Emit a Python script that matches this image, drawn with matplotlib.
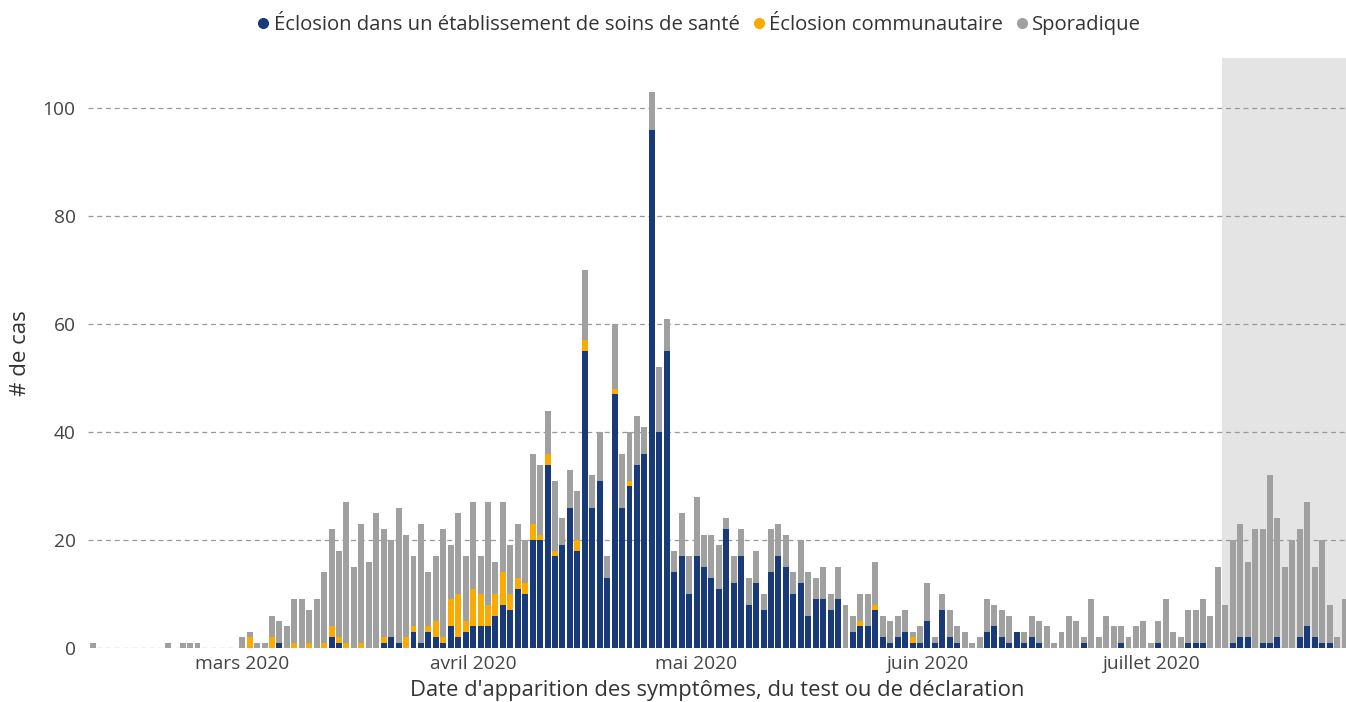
import pandas as pd
import matplotlib
matplotlib.use("Agg")
import matplotlib.pyplot as plt
import matplotlib.dates as mdates
from matplotlib.lines import Line2D

# Daily counts from 2020-02-10 onward
start_date = "2020-02-10"

eclosion_soins = [
    0, 0, 0, 0, 0, 0, 0, 0, 0, 0, 0, 0, 0, 0, 0, 0, 0, 0, 0, 0,
    0, 0, 0, 0, 0, 1, 0, 0, 0, 0, 0, 0, 2, 1, 0, 0, 0, 0, 0, 1,
    2, 1, 0, 3, 1, 3, 2, 1, 4, 2, 3, 4, 4, 4, 6, 8, 7, 11, 10, 20,
    20, 34, 17, 19, 26, 18, 55, 26, 31, 13, 47, 26, 30, 34, 36, 96, 40, 55, 14, 17,
    10, 17, 15, 13, 11, 22, 12, 17, 8, 12, 7, 14, 17, 15, 10, 12, 6, 9, 9, 7,
    9, 0, 3, 4, 4, 7, 2, 1, 2, 3, 1, 1, 5, 1, 7, 2, 1, 0, 0, 0,
    3, 4, 2, 1, 3, 1, 2, 1, 0, 0, 0, 0, 0, 1, 0, 0, 0, 0, 1, 0,
    0, 0, 0, 1, 0, 0, 0, 1, 1, 1, 0, 0, 0, 1, 2, 2, 0, 1, 1, 2,
    0, 0, 2, 4, 2, 1, 1, 0, 0,
]
eclosion_communautaire = [
    0, 0, 0, 0, 0, 0, 0, 0, 0, 0, 0, 0, 0, 0, 0, 0, 0, 0, 0, 0,
    0, 2, 0, 0, 2, 0, 0, 1, 0, 1, 0, 1, 2, 1, 1, 0, 1, 0, 0, 1,
    0, 0, 2, 1, 0, 1, 3, 1, 5, 8, 2, 7, 6, 4, 4, 6, 3, 2, 2, 3,
    1, 2, 1, 0, 0, 2, 2, 0, 0, 0, 1, 0, 1, 0, 0, 0, 0, 0, 0, 0,
    0, 0, 0, 0, 0, 0, 0, 0, 0, 0, 0, 0, 0, 0, 0, 0, 0, 0, 0, 0,
    0, 0, 0, 1, 0, 1, 0, 0, 0, 0, 1, 0, 0, 0, 0, 0, 0, 0, 0, 0,
    0, 0, 0, 0, 0, 0, 0, 0, 0, 0, 0, 0, 0, 0, 0, 0, 0, 0, 0, 0,
    0, 0, 0, 0, 0, 0, 0, 0, 0, 0, 0, 0, 0, 0, 0, 0, 0, 0, 0, 0,
    0, 0, 0, 0, 0, 0, 0, 0, 0,
]
sporadique = [
    1, 0, 0, 0, 0, 0, 0, 0, 0, 0, 1, 0, 1, 1, 1, 0, 0, 0, 0, 0,
    2, 1, 1, 1, 4, 4, 4, 8, 9, 6, 9, 13, 18, 16, 26, 15, 22, 16, 25, 20,
    18, 25, 19, 13, 22, 10, 12, 20, 10, 15, 12, 16, 7, 19, 6, 13, 9, 10, 8, 13,
    13, 8, 13, 5, 7, 9, 13, 6, 9, 4, 12, 10, 9, 9, 5, 7, 12, 6, 4, 8,
    7, 11, 6, 8, 8, 2, 5, 5, 5, 6, 3, 8, 6, 6, 4, 8, 8, 4, 6, 3,
    6, 8, 3, 5, 6, 8, 4, 4, 4, 4, 1, 3, 7, 1, 3, 5, 3, 3, 1, 2,
    6, 4, 5, 5, 0, 2, 4, 4, 4, 1, 3, 6, 5, 1, 9, 2, 6, 4, 3, 2,
    4, 5, 1, 4, 9, 3, 2, 6, 6, 8, 6, 15, 8, 19, 21, 14, 22, 21, 31, 22,
    15, 20, 20, 23, 13, 19, 7, 2, 9,
]

# Period shaded as incomplete (recent data)
shade_start = "2020-07-11"

month_ticks = ["2020-03-01", "2020-04-01", "2020-05-01", "2020-06-01", "2020-07-01"]
month_labels = ["mars 2020", "avril 2020", "mai 2020", "juin 2020", "juillet 2020"]

series_names = [
    "Éclosion dans un établissement de soins de santé",
    "Éclosion communautaire",
    "Sporadique",
]
colors = ["#183a78", "#fca900", "#a0a0a0"]

dates = pd.date_range(start_date, periods=len(sporadique), freq="D")
df = pd.DataFrame({
    "soins": eclosion_soins,
    "communautaire": eclosion_communautaire,
    "sporadique": sporadique,
}, index=dates)

plt.rcParams["font.family"] = ["Open Sans", "DejaVu Sans"]

fig = plt.figure(figsize=(13.46, 7.02), dpi=100)
ax = fig.add_axes([0.0654, 0.077, 0.9346, 0.84])

x = mdates.date2num(df.index)
bottom = [0] * len(df)
for col, color in zip(df.columns, colors):
    ax.bar(x, df[col], width=0.8, bottom=bottom, color=color, zorder=3)
    bottom = [b + v for b, v in zip(bottom, df[col])]

# Axis limits and shaded recent period
x_left = x[0] - 0.7
x_right = x[-1] + 0.2
ax.set_xlim(x_left, x_right)
ax.set_ylim(0, 109.3)
ax.axvspan(mdates.date2num(pd.Timestamp(shade_start)) - 0.5, x_right,
           color="#e4e4e4", zorder=0, lw=0)

# Grid and ticks
ax.set_yticks([0, 20, 40, 60, 80, 100])
ax.yaxis.grid(True, linestyle=(0, (4, 3)), color="#999999", linewidth=0.9, zorder=1)
ax.set_xticks(mdates.date2num(pd.to_datetime(month_ticks)))
ax.set_xticklabels(month_labels)
ax.tick_params(axis="both", length=0, labelsize=13.8, colors="#444444")
ax.tick_params(axis="x", pad=5)
ax.tick_params(axis="y", pad=9)
for s in ax.spines.values():
    s.set_visible(False)

ax.set_xlabel("Date d'apparition des symptômes, du test ou de déclaration",
              fontsize=15.8, color="#333333", labelpad=5)
ax.set_ylabel("# de cas", fontsize=16, color="#333333", labelpad=8)

# Legend at the top
handles = [Line2D([], [], marker="o", linestyle="", color=c, markersize=7) for c in colors]
fig.legend(handles, series_names, loc="center", bbox_to_anchor=(0.518, 0.964),
           ncol=3, frameon=False, fontsize=14.6, handletextpad=0.0,
           columnspacing=0.45, labelcolor="#333333", handlelength=1.0)

plt.savefig("out.png", dpi=100)
plt.close()
